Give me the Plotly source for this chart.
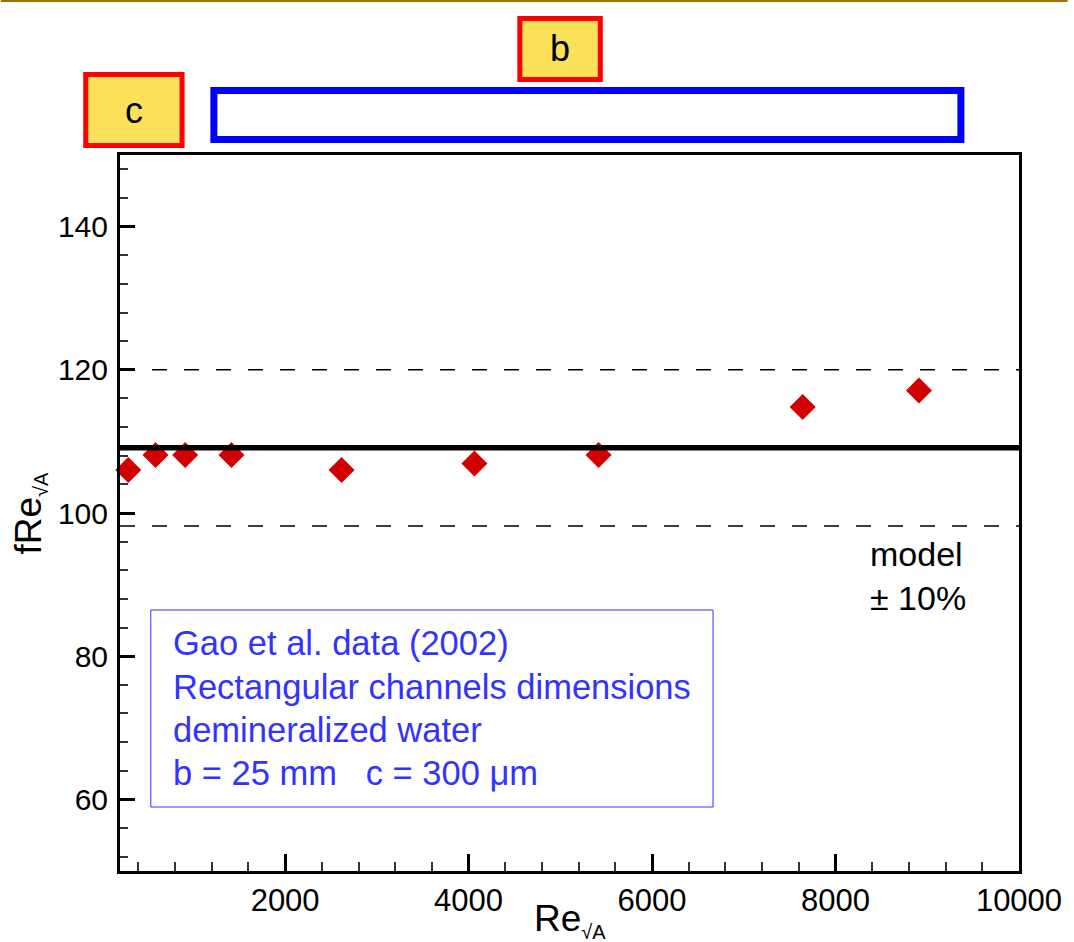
import plotly.graph_objects as go

# ---- data ----
re_sqrtA = [290, 587, 910, 1415, 2615, 4064, 5417, 7642, 8909]
fre_sqrtA = [106.0, 108.1, 108.1, 108.1, 106.0, 106.9, 108.1, 114.8, 117.1]

model_x = [200, 10000]
model_y = [109.1, 109.1]
upper_y = [120.0, 120.0]   # model + 10%
lower_y = [98.2, 98.2]     # model - 10%

x_range = [200, 10000]
y_range = [50, 150]
x_ticks = [2000, 4000, 6000, 8000, 10000]
y_ticks = [60, 80, 100, 120, 140]

legend_lines = ["Gao et al. data (2002)",
                "Rectangular channels dimensions",
                "demineralized water",
                "b = 25 mm\u00a0\u00a0\u00a0c = 300 \u03bcm"]

# ---- layout geometry (pixels) ----
W, H = 1074, 942
L, R, T, B = 120, 1025, 155, 871
FONT = "Liberation Sans, Arial, sans-serif"


def px(x):
    return (x - L) / (R - L)


def py(y):
    return (B - y) / (B - T)


fig = go.Figure()

fig.add_trace(go.Scatter(x=re_sqrtA, y=fre_sqrtA, mode="markers",
                         marker=dict(symbol="diamond", size=20, color="#D20000",
                                     line=dict(width=0)),
                         cliponaxis=False, showlegend=False))
fig.add_trace(go.Scatter(x=model_x, y=upper_y, mode="lines",
                         line=dict(color="black", width=1.5, dash="15px,17px"),
                         showlegend=False))
fig.add_trace(go.Scatter(x=model_x, y=lower_y, mode="lines",
                         line=dict(color="black", width=1.5, dash="15px,17px"),
                         showlegend=False))
fig.add_trace(go.Scatter(x=model_x, y=model_y, mode="lines",
                         line=dict(color="black", width=5.5),
                         showlegend=False))

axis_common = dict(showline=True, mirror=True, linewidth=3, linecolor="black",
                   showgrid=False, zeroline=False, ticks="inside",
                   tickwidth=3, tickcolor="black", tickformat="d")

fig.update_xaxes(range=x_range, tickvals=x_ticks, ticklen=17,
                 ticklabelstandoff=0,
                 tickfont=dict(family=FONT, size=31, color="black"),
                 minor=dict(dtick=400, tick0=0, ticklen=9, tickwidth=1.5,
                            tickcolor="#333", ticks="inside"),
                 **axis_common)
fig.update_yaxes(range=y_range, tickvals=y_ticks, ticklen=15,
                 ticklabelstandoff=3,
                 tickfont=dict(family=FONT, size=30, color="black"),
                 minor=dict(dtick=4, tick0=0, ticklen=8, tickwidth=1.5,
                            tickcolor="#333", ticks="inside"),
                 **axis_common)

shapes = [
    # top gold rule
    dict(type="line", xref="paper", yref="paper", x0=px(0), x1=px(W),
         y0=py(1), y1=py(1), line=dict(color="#A07000", width=2)),
    # box b
    dict(type="rect", xref="paper", yref="paper", x0=px(522.5), x1=px(603.5),
         y0=py(79.5), y1=py(18.5), fillcolor="#FBE05A",
         line=dict(color="#FF0000", width=5)),
    # box c
    dict(type="rect", xref="paper", yref="paper", x0=px(85.5), x1=px(182.5),
         y0=py(145.5), y1=py(74.5), fillcolor="#FBE05A",
         line=dict(color="#FF0000", width=5)),
    # blue channel box
    dict(type="rect", xref="paper", yref="paper", x0=px(214.5), x1=px(966.5),
         y0=py(139.5), y1=py(90.5), fillcolor="white",
         line=dict(color="#0000FF", width=7)),
    # legend frame
    dict(type="rect", xref="paper", yref="paper", x0=px(151), x1=px(717),
         y0=py(807), y1=py(610), fillcolor="rgba(0,0,0,0)",
         line=dict(color="#3333FF", width=1)),
]

annotations = [
    dict(text="b", xref="paper", yref="paper", x=px(563), y=py(48),
         xanchor="center", yanchor="middle", showarrow=False,
         font=dict(family=FONT, size=36, color="black")),
    dict(text="c", xref="paper", yref="paper", x=px(134), y=py(111),
         xanchor="center", yanchor="middle", showarrow=False,
         font=dict(family=FONT, size=36, color="black")),
    dict(text="model<br>\u00b1\u00a010%", xref="paper", yref="paper",
         x=px(873), y=py(576), xanchor="left", yanchor="middle", align="left",
         showarrow=False, font=dict(family=FONT, size=34, color="black")),
    # axis titles
    dict(text="Re<sub><span style='font-size:20px'>\u221aA</span></sub>",
         xref="paper", yref="paper", x=0.5, y=py(920),
         xanchor="center", yanchor="middle", showarrow=False,
         font=dict(family=FONT, size=37, color="black")),
    dict(text="fRe<sub><span style='font-size:20px'>\u221aA</span></sub>",
         xref="paper", yref="paper", x=px(29), y=0.5, textangle=-90,
         xanchor="center", yanchor="middle", showarrow=False,
         font=dict(family=FONT, size=37, color="black")),
]

legend_centers = [643, 687, 730, 773]
for line, cy in zip(legend_lines, legend_centers):
    annotations.append(dict(text=line, xref="paper", yref="paper",
                            x=px(171), y=py(cy), xanchor="left", yanchor="middle",
                            align="left", showarrow=False,
                            font=dict(family=FONT, size=34.5, color="#3333FF")))

fig.update_layout(width=W, height=H,
                  margin=dict(l=L, r=W - R, t=T, b=H - B, pad=0),
                  paper_bgcolor="white", plot_bgcolor="white",
                  shapes=shapes, annotations=annotations, showlegend=False)

fig.write_html("out.html", config={"displayModeBar": False},
               post_script="document.body.style.margin='0';"
                           "document.body.style.overflow='hidden';")
